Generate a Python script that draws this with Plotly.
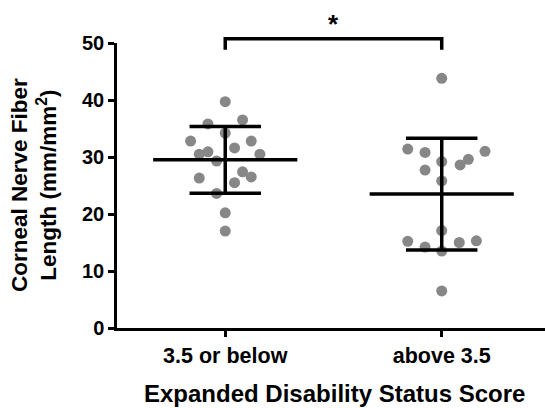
import plotly.graph_objects as go

# ---- data ----
categories = ["3.5 or below", "above 3.5"]
group1_values = [39.7, 35.8, 36.5, 34.2, 32.8, 32.8, 31.6, 30.5, 30.9, 30.5,
                 29.3, 27.4, 26.5, 26.3, 25.5, 23.6, 20.2, 17.0]
group1_offsets = [0, -0.08, 0.08, 0, -0.16, 0.12, 0.043, -0.12, -0.08, 0.16,
                  -0.04, 0.08, 0.12, -0.12, 0.043, -0.04, 0, 0]
group2_values = [43.8, 31.4, 30.8, 31.0, 29.2, 29.6, 28.6, 27.7, 25.8, 17.1,
                 15.2, 14.2, 13.5, 15.0, 15.3, 6.5]
group2_offsets = [0, -0.157, -0.077, 0.2, 0, 0.123, 0.085, -0.077, 0, 0,
                  -0.157, -0.077, 0, 0.081, 0.16, 0]
means = [29.5, 23.5]
sds = [5.85, 9.8]
y_ticks = [0, 10, 20, 30, 40, 50]
significance_label = "*"
x_title = "Expanded Disability Status Score"
y_title = "Corneal Nerve Fiber<br>Length (mm/mm<sup>2</sup>)"
bracket_level = 50.75
bracket_leg = 48.8

# ---- styles ----
FONT = "Liberation Sans, Arial, sans-serif"
DOT_COLOR = "#878787"
MEAN_HALF = 0.333
CAP_HALF = 0.165
LINE_W = 3.5
Y_MAX = 50
W, H = 545, 408
ML, MR, MT, MB = 117, 0, 43, 80
PW = W - ML - MR
PH = H - MT - MB

fig = go.Figure()

groups = [(0, group1_values, group1_offsets), (1, group2_values, group2_offsets)]
for idx, vals, offs in groups:
    fig.add_trace(go.Scatter(
        x=[idx + o for o in offs], y=vals, mode="markers",
        marker=dict(size=11, color=DOT_COLOR, line=dict(width=0)),
        showlegend=False, hoverinfo="y"))

for idx, (m, s) in enumerate(zip(means, sds)):
    fig.add_trace(go.Scatter(x=[idx - MEAN_HALF, idx + MEAN_HALF], y=[m, m], mode="lines",
                             line=dict(color="black", width=LINE_W), showlegend=False))
    fig.add_trace(go.Scatter(x=[idx, idx], y=[m - s, m + s], mode="lines",
                             line=dict(color="black", width=LINE_W), showlegend=False))
    for v in (m - s, m + s):
        fig.add_trace(go.Scatter(x=[idx - CAP_HALF, idx + CAP_HALF], y=[v, v], mode="lines",
                                 line=dict(color="black", width=LINE_W), showlegend=False))

# significance bracket
yt = bracket_level / Y_MAX
yl = bracket_leg / Y_MAX
fig.add_shape(type="path", xref="x", yref="paper",
              path=f"M 0,{yl} L 0,{yt} L 1,{yt} L 1,{yl}",
              line=dict(color="black", width=3.5))
fig.add_annotation(x=0.5, xref="x", y=yt, yref="paper", text=f"<b>{significance_label}</b>",
                   showarrow=False, yanchor="bottom", yshift=-2,
                   font=dict(family=FONT, size=26, color="black"))

# axis titles as annotations (precise placement)
fig.add_annotation(x=(334 - ML) / PW, xref="paper", y=-(393 - MT - PH) / PH, yref="paper",
                   text=f"<b>{x_title}</b>", showarrow=False, xanchor="center", yanchor="middle",
                   borderpad=0,
                   font=dict(family=FONT, size=24, color="black"))
fig.add_annotation(x=(34 - ML) / PW, xref="paper", y=(PH - (185 - MT)) / PH, yref="paper",
                   text=f"<b>{y_title}</b>", showarrow=False, textangle=-90,
                   xanchor="center", yanchor="middle",
                   font=dict(family=FONT, size=22.5, color="black"))

fig.update_layout(
    width=W, height=H,
    margin=dict(l=ML, r=MR, t=MT, b=MB),
    plot_bgcolor="white", paper_bgcolor="white",
    font=dict(family=FONT, color="black", size=20, weight="bold"),
    xaxis=dict(range=[-0.5, 1.477], tickvals=[0, 1], ticktext=categories,
               showline=True, linecolor="black", linewidth=2.5,
               ticks="outside", ticklen=6, tickwidth=2.5, tickcolor="black",
               showgrid=False, zeroline=False, automargin=False,
               tickfont=dict(family=FONT, size=21.5, weight="bold")),
    yaxis=dict(range=[0, Y_MAX], tickvals=y_ticks,
               showline=True, linecolor="black", linewidth=2.5,
               ticks="outside", ticklen=6, tickwidth=2.5, tickcolor="black",
               showgrid=False, zeroline=False, automargin=False,
               tickfont=dict(family=FONT, size=20, weight="bold")),
)

fig.write_html("out.html",
               config={"displayModeBar": False},
               post_script="document.body.style.margin='0';document.body.style.overflow='hidden';")
